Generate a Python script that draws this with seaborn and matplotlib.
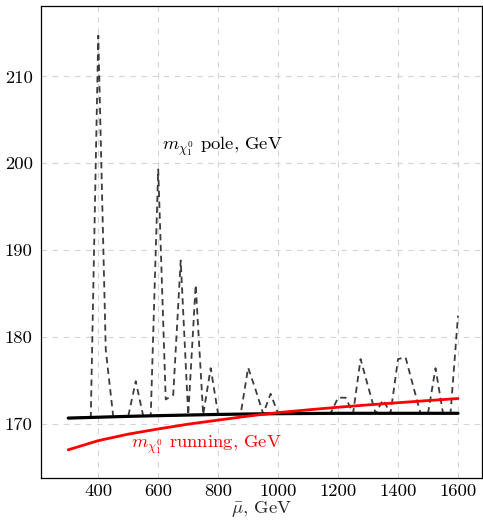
import numpy as np
import pandas as pd
import matplotlib
matplotlib.use("Agg")
import matplotlib.pyplot as plt
import seaborn as sns

# ---- data ----
mu_fine = [300, 325, 350, 375, 400, 425, 450, 475, 500, 525, 550, 575, 600, 625, 650,
           675, 700, 725, 750, 775, 800, 825, 850, 875, 900, 925, 950, 975, 1000,
           1025, 1050, 1075, 1100, 1125, 1150, 1175, 1200, 1225, 1250, 1275, 1300,
           1325, 1350, 1375, 1400, 1425, 1450, 1475, 1500, 1525, 1550, 1575, 1600]
m_pole = [170.65, 170.68, 170.7, 170.72, 214.7, 178.5, 170.8, 170.82, 170.85, 174.9,
          170.88, 170.9, 199.3, 172.8, 173.3, 188.8, 171.0, 186.0, 171.03, 176.4,
          171.07, 171.08, 171.1, 171.11, 176.45, 173.9, 171.14, 173.45, 171.16,
          171.17, 171.18, 171.18, 171.19, 171.19, 171.2, 171.2, 173.0, 173.0, 171.2,
          177.45, 174.3, 171.2, 172.75, 171.2, 177.45, 177.65, 174.4, 171.2, 171.2,
          176.4, 171.2, 171.2, 182.45]

mu_coarse = [300, 400, 500, 600, 700, 800, 900, 1000, 1100, 1200, 1300, 1400, 1500, 1600]
m_tree = [170.65, 170.75, 170.85, 170.93, 171.0, 171.07, 171.12, 171.16, 171.18,
          171.2, 171.2, 171.2, 171.2, 171.2]
m_running = [167.0, 168.05, 168.8, 169.4, 169.95, 170.42, 170.88, 171.28, 171.6,
             171.9, 172.17, 172.42, 172.67, 172.9]

xticks = [400, 600, 800, 1000, 1200, 1400, 1600]
yticks = [170, 180, 190, 200, 210]
label_pole = r"$m_{\chi_1^0}$ pole, GeV"
label_running = r"$m_{\chi_1^0}$ running, GeV"
xlabel = r"$\bar{\mu}$, GeV"

df_pole = pd.DataFrame({"mu": mu_fine, "m": m_pole})
df_c = pd.DataFrame({"mu": mu_coarse, "tree": m_tree, "run": m_running})

# ---- styling ----
sns.set_style("white")
plt.rcParams["font.family"] = ["cmr10", "DejaVu Serif"]
plt.rcParams["mathtext.fontset"] = "cm"
plt.rcParams["axes.formatter.use_mathtext"] = True
FS = 13.4
plt.rcParams["font.size"] = FS

fig = plt.figure(figsize=(4.83, 5.22), dpi=100)
ax = fig.add_axes([0.0849, 0.0843, 0.913, 0.904])

sns.lineplot(data=df_pole, x="mu", y="m", ax=ax, color="#3c3c3c", lw=1.3,
             estimator=None, sort=False)
ax.lines[-1].set_dashes((3.5, 2.5))
sns.lineplot(data=df_c, x="mu", y="tree", ax=ax, color="black", lw=2.3,
             estimator=None)
sns.lineplot(data=df_c, x="mu", y="run", ax=ax, color="#ff0000", lw=2.0,
             estimator=None)

ax.set_xlim(209, 1680)
ax.set_ylim(163.75, 218.1)
ax.set_xticks(xticks)
ax.set_yticks(yticks)
ax.set_xticklabels([str(v) for v in xticks])
ax.set_yticklabels([str(v) for v in yticks])
ax.grid(True, color="#d4d4d4", linestyle=(0, (5, 5)), lw=0.8)
ax.set_axisbelow(True)
ax.tick_params(direction="in", length=3, width=0.6, color="#888888",
               labelsize=FS, labelcolor="black")
ax.tick_params(axis="x", pad=4)
ax.tick_params(axis="y", pad=6)
for s in ax.spines.values():
    s.set_color("black")
    s.set_linewidth(0.9)

ax.set_xlabel(xlabel, fontsize=FS, labelpad=0)
ax.set_ylabel("")

ax.text(613, 202.0, label_pole, fontsize=FS, color="black", ha="left", va="center")
ax.text(510, 167.6, label_running, fontsize=FS, color="#ff0000", ha="left", va="center")

fig.savefig("out.png", dpi=100)
